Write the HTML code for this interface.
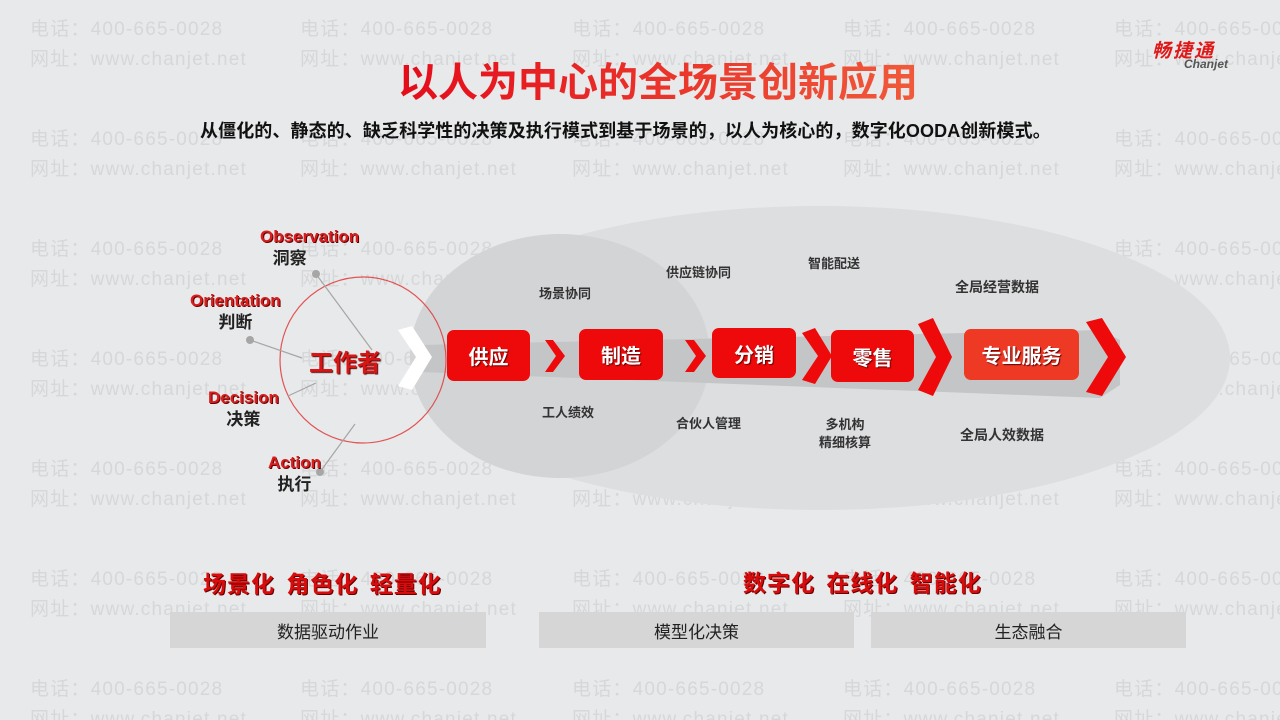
<!DOCTYPE html>
<html><head><meta charset="utf-8"><style>
*{margin:0;padding:0;box-sizing:border-box}
html,body{width:1280px;height:720px;overflow:hidden}
body{background:#e8e9ea;position:relative;font-family:"Liberation Sans","Noto Sans CJK SC",sans-serif}
.a{position:absolute;white-space:nowrap}
.wm{position:absolute;color:#d5d7d9;font-size:19px;font-family:"Liberation Sans","Noto Sans CJK SC",sans-serif;line-height:20px;letter-spacing:1.2px;white-space:nowrap}
.box{position:absolute;background:#ee0a0a;border-radius:7px;color:#fff;font-weight:bold;font-size:20px;display:flex;align-items:center;justify-content:center;text-shadow:1px 1px 1px #600}
.lbl{position:absolute;font-size:13px;font-weight:bold;color:#333;white-space:nowrap;text-align:center;line-height:18px}
.ood{position:absolute;text-align:center;font-weight:bold;line-height:22px;white-space:nowrap}
.ood b{display:block;color:#d81e1e;font-size:17px;text-shadow:1px 1px 0 #600}
.ood span{display:block;color:#222;font-size:17px}
.bar{position:absolute;background:#d6d6d6;height:36px;top:612px;font-size:17px;color:#222;display:flex;align-items:center;justify-content:center}
</style></head><body>
<div id="wms"></div>
<svg class="a" style="left:0;top:0" width="1280" height="720">
<ellipse cx="820" cy="358" rx="410" ry="152" fill="#dddee0"/>
<ellipse cx="560" cy="356" rx="150" ry="122" fill="#d3d4d6"/>
<polygon points="420,345 1100,330 1120,340 1120,385 1100,398 420,372" fill="#c4c5c6"/>
<circle cx="363" cy="360" r="83" fill="none" stroke="#e03a3a" stroke-width="1.2" opacity="0.85"/>
<g stroke="#a6a6a6" stroke-width="1.2">
<line x1="316" y1="274" x2="372" y2="350"/><line x1="250" y1="340" x2="302" y2="358"/>
<line x1="316" y1="383" x2="288" y2="396"/><line x1="320" y1="472" x2="355" y2="424"/></g>
<g fill="#a6a6a6"><circle cx="316" cy="274" r="4"/><circle cx="250" cy="340" r="4"/><circle cx="320" cy="472" r="4"/></g>
<polygon points="398,330 412,326 432,357 412,390 398,386 416,357" fill="#fff"/>
<polygon points="545,340 553,340 565,356 553,372 545,372 556,356" fill="#ee0a0a"/>
<polygon points="685,340 694,340 706,356 694,372 685,372 696,356" fill="#ee0a0a"/>
<polygon points="802,333 815,328 832,356 815,384 802,380 818,356" fill="#ee0a0a"/>
<polygon points="918,324 933,318 952,357 933,396 918,390 936,357" fill="#ee0a0a"/>
<polygon points="1086,322 1102,318 1126,357 1102,396 1086,392 1108,357" fill="#ee0a0a"/>
</svg>
<div class="a" style="left:398px;top:58px;font-size:40px;font-weight:bold;line-height:50px;background:linear-gradient(90deg,#e40c1a,#f05a3a);-webkit-background-clip:text;color:transparent">以人为中心的全场景创新应用</div>
<div class="a" style="left:200px;top:120px;font-size:18px;font-weight:bold;color:#111;line-height:22px;letter-spacing:0.1px">从僵化的、静态的、缺乏科学性的决策及执行模式到基于场景的，以人为核心的，数字化OODA创新模式。</div>
<div class="a" style="left:1152px;top:36px;font-size:19px;font-weight:bold;font-style:italic;color:#e01818;letter-spacing:2px">畅捷通</div>
<div class="a" style="left:1184px;top:57px;font-size:12px;font-weight:bold;font-style:italic;color:#555">Chanjet</div>
<div class="ood" style="left:260px;top:226px"><b>Observation</b><span style="margin-left:-40px">洞察</span></div>
<div class="ood" style="left:190px;top:290px"><b>Orientation</b><span>判断</span></div>
<div class="ood" style="left:208px;top:387px"><b>Decision</b><span>决策</span></div>
<div class="ood" style="left:268px;top:452px"><b>Action</b><span>执行</span></div>
<div class="a" style="left:309px;top:343px;font-size:24px;font-weight:bold;color:#d81616;text-shadow:1px 1px 1px #500">工作者</div>
<div class="box" style="left:447px;top:330px;width:83px;height:51px">供应</div>
<div class="box" style="left:579px;top:329px;width:84px;height:51px">制造</div>
<div class="box" style="left:712px;top:328px;width:84px;height:50px">分销</div>
<div class="box" style="left:831px;top:330px;width:83px;height:52px">零售</div>
<div class="box" style="left:964px;top:329px;width:115px;height:51px;background:#ee3a24">专业服务</div>
<div class="lbl" style="left:539px;top:285px">场景协同</div>
<div class="lbl" style="left:542px;top:404px">工人绩效</div>
<div class="lbl" style="left:666px;top:264px">供应链协同</div>
<div class="lbl" style="left:676px;top:415px">合伙人管理</div>
<div class="lbl" style="left:808px;top:255px">智能配送</div>
<div class="lbl" style="left:819px;top:416px;">多机构<br>精细核算</div>
<div class="lbl" style="left:955px;top:278px;font-size:14px">全局经营数据</div>
<div class="lbl" style="left:960px;top:426px;font-size:14px">全局人效数据</div>
<div class="a" style="left:203px;top:565px;font-size:23px;font-weight:bold;color:#d80c0c;letter-spacing:1px;word-spacing:4px;text-shadow:1px 1px 0 #600">场景化 角色化 轻量化</div>
<div class="a" style="left:743px;top:564px;font-size:23px;font-weight:bold;color:#d80c0c;letter-spacing:1px;word-spacing:4px;text-shadow:1px 1px 0 #600">数字化 在线化 智能化</div>
<div class="bar" style="left:170px;width:316px">数据驱动作业</div>
<div class="bar" style="left:539px;width:315px">模型化决策</div>
<div class="bar" style="left:871px;width:315px">生态融合</div>
<script>
var h='',xs=[30,300,572,843,1114],ys=[30,140,250,360,470,580,690];
ys.forEach(function(y){xs.forEach(function(x){h+='<div class="wm" style="left:'+x+'px;top:'+(y-10)+'px">电话：400-665-0028</div><div class="wm" style="left:'+x+'px;top:'+(y+20)+'px">网址：www.chanjet.net</div>';});});
document.getElementById('wms').innerHTML=h;
</script>
</body></html>
